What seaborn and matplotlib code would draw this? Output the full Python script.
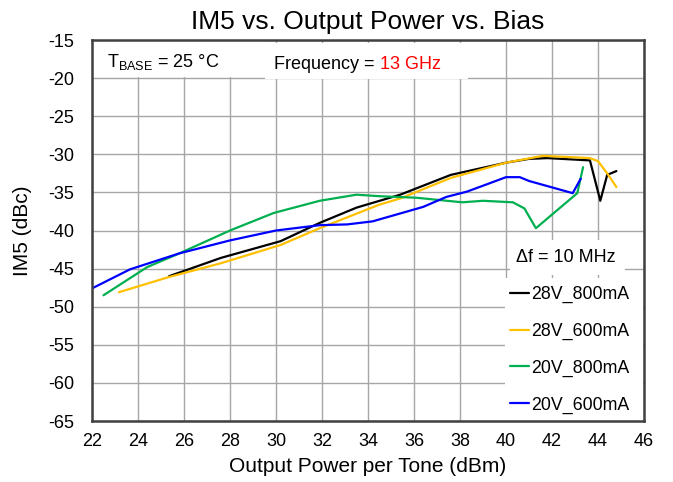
import matplotlib
matplotlib.use("Agg")
import matplotlib.pyplot as plt
from matplotlib.patches import Rectangle
import numpy as np
import pandas as pd
import seaborn as sns

# ---- data ----
x_28v_800 = [25.35, 27.6, 30.2, 31.9, 33.5, 35.4, 37.6, 40.0, 41.0, 41.8, 43.65, 44.1, 44.4, 44.8]
y_28v_800 = [-46.0, -43.6, -41.4, -39.0, -37.0, -35.3, -32.7, -31.1, -30.6, -30.5, -30.8, -36.1, -32.7, -32.2]

x_28v_600 = [23.17, 25.35, 27.6, 30.2, 31.9, 34.5, 35.4, 37.6, 40.0, 41.6, 43.65, 44.0, 44.4, 44.8]
y_28v_600 = [-48.1, -46.1, -44.3, -41.9, -39.7, -36.6, -35.8, -33.1, -31.1, -30.2, -30.5, -30.9, -32.5, -34.3]

x_20v_800 = [22.5, 24.4, 25.8, 28.0, 29.9, 31.9, 33.5, 34.5, 36.1, 38.1, 39.0, 40.3, 40.8, 41.3, 43.1, 43.35]
y_20v_800 = [-48.5, -44.8, -43.0, -40.0, -37.7, -36.1, -35.3, -35.5, -35.7, -36.3, -36.1, -36.3, -37.1, -39.7, -35.1, -31.7]

x_20v_600 = [22.0, 23.65, 25.8, 28.0, 30.0, 31.9, 33.1, 34.2, 36.4, 37.4, 38.3, 39.2, 40.0, 40.6, 41.0, 42.9, 43.25]
y_20v_600 = [-47.6, -45.1, -43.0, -41.3, -40.0, -39.3, -39.2, -38.8, -36.9, -35.6, -34.9, -33.9, -33.0, -33.0, -33.5, -35.1, -33.2]

series_names = ["28V_800mA", "28V_600mA", "20V_800mA", "20V_600mA"]
series_colors = ["#000000", "#FFC000", "#00B050", "#0000FF"]

x_ticks = [22, 24, 26, 28, 30, 32, 34, 36, 38, 40, 42, 44, 46]
y_ticks = [-65, -60, -55, -50, -45, -40, -35, -30, -25, -20, -15]

rows = []
for name, xs, ys in zip(series_names,
                        [x_28v_800, x_28v_600, x_20v_800, x_20v_600],
                        [y_28v_800, y_28v_600, y_20v_800, y_20v_600]):
    for xv, yv in zip(xs, ys):
        rows.append({"Pout": xv, "IM5": yv, "Bias": name})
df = pd.DataFrame(rows)

# ---- styling ----
sns.set_style("white")
plt.rcParams["font.family"] = ["Liberation Sans", "DejaVu Sans"]
plt.rcParams["mathtext.fontset"] = "custom"
plt.rcParams["mathtext.rm"] = "Liberation Sans"
plt.rcParams["text.color"] = "black"
plt.rcParams["axes.labelcolor"] = "black"
plt.rcParams["xtick.color"] = "black"
plt.rcParams["ytick.color"] = "black"

fig = plt.figure(figsize=(6.73, 4.82), dpi=100)
ax = fig.add_axes([92 / 673, 1 - 421 / 482, 552 / 673, 381 / 482])

sns.lineplot(data=df, x="Pout", y="IM5", hue="Bias", hue_order=series_names,
             palette=dict(zip(series_names, series_colors)), sort=False,
             estimator=None, linewidth=1.6, ax=ax, zorder=3)

ax.set_xlim(22, 46)
ax.set_ylim(-65, -15)
ax.set_xticks(x_ticks)
ax.set_yticks(y_ticks)
ax.set_xticklabels([str(v) for v in x_ticks], fontsize=13, color="black")
ax.set_yticklabels([str(v) for v in y_ticks], fontsize=13, color="black")
ax.tick_params(axis="both", length=0)
ax.tick_params(axis="y", pad=13)
ax.tick_params(axis="x", pad=9)
ax.grid(True, color="#a6a6a6", linewidth=1.0, zorder=0)
ax.set_axisbelow(True)
for sp in ax.spines.values():
    sp.set_visible(True)
    sp.set_color("#404040")
    sp.set_linewidth(1.8)
    sp.set_zorder(6)

ax.set_xlabel("Output Power per Tone (dBm)", fontsize=15, color="black")
ax.set_ylabel("IM5 (dBc)", fontsize=15, color="black")
ax.xaxis.set_label_coords(0.5, -0.094)
ax.yaxis.set_label_coords(-0.108, 0.5)
ax.set_title("IM5 vs. Output Power vs. Bias", fontsize=19, pad=8, color="black")

# ---- white label boxes ----
def box(x0, y0, x1, y1):
    ax.add_patch(Rectangle((x0, y0), x1 - x0, y1 - y0, transform=ax.transAxes,
                           facecolor="white", edgecolor="none", zorder=2))

box(0.002, 0.903, 0.313, 0.997)   # T_BASE
box(0.313, 0.898, 0.681, 0.992)   # Frequency
box(0.757, 0.383, 0.966, 0.475)   # delta f
box(0.748, 0.0, 0.999, 0.375)     # legend area

ax.text(0.027, 0.942, r"$\mathregular{T_{BASE}}$ = 25 °C", transform=ax.transAxes,
        fontsize=13, ha="left", va="center", zorder=5, color="black")
t1 = ax.text(0.330, 0.925, "Frequency =", transform=ax.transAxes,
             fontsize=13, ha="left", va="baseline", zorder=5, color="black")
ax.text(0.768, 0.428, "Δf = 10 MHz", transform=ax.transAxes,
        fontsize=13, ha="left", va="center", zorder=5, color="black")

fig.canvas.draw()
r = fig.canvas.get_renderer()
bb = t1.get_window_extent(renderer=r)
x_end = ax.transAxes.inverted().transform((bb.x1, bb.y0))[0]
ax.text(x_end, 0.925, " 13 GHz", transform=ax.transAxes, color="#FF0000",
        fontsize=13, ha="left", va="baseline", zorder=5)

# ---- legend ----
leg = ax.legend(loc="upper left", bbox_to_anchor=(0.757, 0.354), frameon=False,
                fontsize=12.8, handlelength=1.07, handletextpad=0.12,
                labelspacing=1.1, borderpad=0, borderaxespad=0, title=None,
                labelcolor="black")
leg.set_zorder(7)
for line in leg.get_lines():
    line.set_linewidth(1.6)

fig.savefig("out.png", dpi=100)
